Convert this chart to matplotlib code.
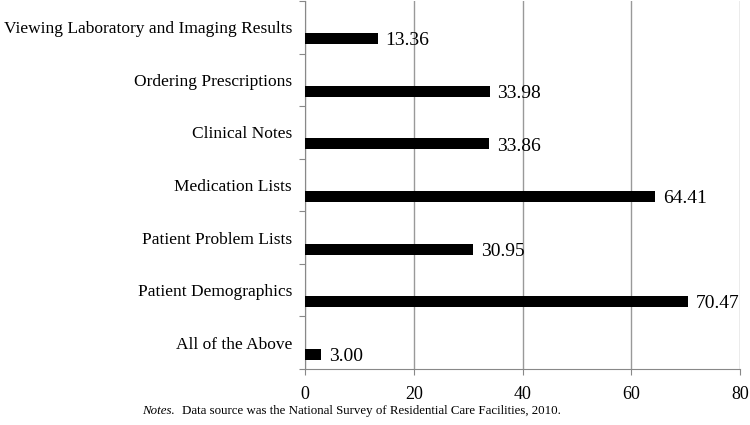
import matplotlib.pyplot as plt
from matplotlib.ticker import FixedLocator

# categories listed from bottom to top
categories = ["All of the Above", "Patient Demographics", "Patient Problem Lists",
              "Medication Lists", "Clinical Notes", "Ordering Prescriptions",
              "Viewing Laboratory and Imaging Results"]
values = [3.00, 70.47, 30.95, 64.41, 33.86, 33.98, 13.36]
x_ticks = [0, 20, 40, 60, 80]
note = "Data source was the National Survey of Residential Care Facilities, 2010."

plt.rcParams["font.family"] = ["Liberation Serif", "DejaVu Serif"]

fig = plt.figure(figsize=(7.5, 4.25), dpi=100)
ax = fig.add_axes([0.4067, 0.1318, 0.58, 0.866])

pos = list(range(len(categories)))
bar_pos = [p - 0.22 for p in pos]
ax.barh(bar_pos, values, height=0.21, color="black", zorder=3)

for y, v in zip(bar_pos, values):
    ax.text(v + 1.4, y - 0.04, f"{v:.2f}", va="center", ha="left", fontsize=14)

ax.set_xlim(0, 80)
ax.set_ylim(-0.5, len(categories) - 0.5)
ax.set_xticks(x_ticks)
ax.tick_params(axis="x", labelsize=13, length=4, color="#888888", pad=8)

# band boundaries get the tick marks, band centres get the labels
ax.yaxis.set_major_locator(FixedLocator([p - 0.5 for p in pos] + [len(pos) - 0.5]))
ax.yaxis.set_major_formatter(plt.NullFormatter())
ax.tick_params(axis="y", which="major", length=4, color="#888888")
ax.yaxis.set_minor_locator(FixedLocator(pos))
ax.set_yticklabels(categories, minor=True)
ax.tick_params(axis="y", which="minor", length=0, labelsize=12.5, pad=9.4)

ax.grid(axis="x", color="#999999", linewidth=1, zorder=0)
for s in ["top", "right"]:
    ax.spines[s].set_visible(False)
for s in ["left", "bottom"]:
    ax.spines[s].set_color("#888888")

fig.text(0.19, 0.033, "Notes.", fontsize=9.3, style="italic", va="center")
fig.text(0.19 + 0.0533, 0.033, note, fontsize=9.3, va="center")

fig.savefig("out.png", dpi=100)
